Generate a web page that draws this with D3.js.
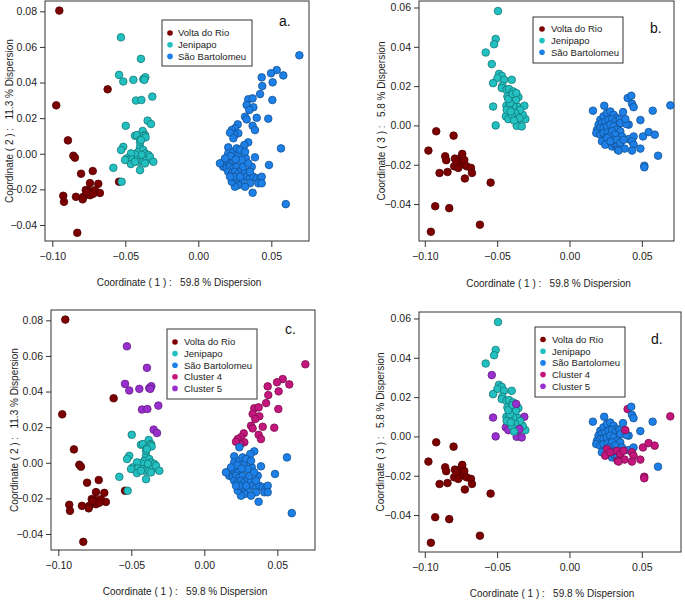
<!DOCTYPE html>
<html><head><meta charset="utf-8">
<script src="https://cdn.jsdelivr.net/npm/d3@7"></script>
<style>body{margin:0;background:#fff}svg{display:block;font-family:"Liberation Sans",Arial,sans-serif}</style>
</head><body><svg id="chart" width="685" height="601"></svg>
<script>
// ---- Data: Coordinate 1 vs Coordinate 2 (panels a, c). third value = cluster (panel c)
const volta12 = [[-0.0952,0.0804],[-0.0973,0.0272],[-0.0893,0.0075],[-0.0856,-0.0011],[-0.0845,-0.0022],[-0.0621,0.0362],[-0.0803,-0.0112],[-0.0723,-0.0097],[-0.0742,-0.0165],[-0.0685,-0.0169],[-0.0771,-0.0204],[-0.0753,-0.0208],[-0.0731,-0.0212],[-0.0708,-0.0205],[-0.0760,-0.0227],[-0.0742,-0.0233],[-0.0788,-0.0242],[-0.0792,-0.0256],[-0.0674,-0.0220],[-0.0838,-0.0242],[-0.0925,-0.0236],[-0.0920,-0.0270],[-0.0829,-0.0444],[-0.0543,-0.0157],[-0.0720,-0.0225],[-0.0765,-0.0215]];
const jeni12 = [[-0.0530,0.0654,5],[-0.0393,0.0533,5],[-0.0543,0.0443,5],[-0.0514,0.0406,5],[-0.0445,0.0415,5],[-0.0377,0.0419,5],[-0.0363,0.0430,5],[-0.0370,0.0415,5],[-0.0427,0.0299,5],[-0.0390,0.0302,5],[-0.0315,0.0321,5],[-0.0347,0.0186,5],[-0.0324,0.0167,5],
[-0.0497,0.0157,2],[-0.0434,0.0101,2],[-0.0420,0.0105,2],[-0.0381,0.0128,2],[-0.0365,0.0105,2],[-0.0395,0.0081,2],[-0.0514,0.0039,2],[-0.0529,0.0021,2],[-0.0582,-0.0079,2],[-0.0525,-0.0157,2],[-0.0399,0.0039,2],[-0.0411,0.0011,2],[-0.0377,0.0021,2],[-0.0365,0.0002,2],[-0.0342,-0.0007,2],[-0.0388,-0.0007,2],[-0.0434,-0.0003,2],[-0.0461,0.0002,2],[-0.0490,-0.0026,2],[-0.0479,-0.0035,2],[-0.0452,-0.0032,2],[-0.0422,-0.0035,2],[-0.0406,-0.0045,2],[-0.0377,-0.0045,2],[-0.0353,-0.0035,2],[-0.0331,-0.0017,2],[-0.0308,-0.0045,2],[-0.0461,-0.0058,2],[-0.0434,-0.0045,2],[-0.0399,-0.0092,2],[-0.0365,-0.0054,2],[-0.0502,-0.0035,2],[-0.0399,0.0067,2],[-0.0370,0.0100,2],[-0.0361,0.0092,2],[-0.0393,0.0077,2]];
const sb12 = [[0.0692,0.0553,4],[0.0537,0.0470,4],[0.0498,0.0452,4],[0.0582,0.0440,4],[0.0434,0.0429,4],[0.0509,0.0401,4],[0.0438,0.0380,4],[0.0423,0.0335,4],[0.0507,0.0302,4],[0.0342,0.0306,4],[0.0372,0.0311,4],[0.0331,0.0274,4],[0.0377,0.0261,4],[0.0349,0.0246,4],[0.0400,0.0202,4],[0.0320,0.0208,4],[0.0331,0.0193,4],[0.0479,0.0197,4],[0.0372,0.0157,4],[0.0388,0.0133,4],[0.0270,0.0165,4],[0.0251,0.0143,4],[0.0229,0.0133,4],[0.0274,0.0115,4],[0.0247,0.0105,4],[0.0217,0.0118,4],
[0.0240,0.0087,3],[0.0342,0.0064,3],[0.0315,0.0049,3],[0.0205,0.0036,3],[0.0566,0.0030,3],[0.0388,-0.0020,3],[0.0325,-0.0026,3],[0.0484,-0.0063,3],[0.0366,-0.0073,3],[0.0599,-0.0283,3],[0.0372,-0.0219,3],
[0.0160,-0.0054,3],[0.0178,-0.0045,3],[0.0194,-0.0058,3],[0.0217,-0.0035,3],[0.0233,-0.0054,3],[0.0171,-0.0073,3],[0.0194,-0.0082,3],[0.0217,-0.0073,3],[0.0240,-0.0082,3],[0.0263,-0.0073,3],[0.0205,-0.0101,3],[0.0229,-0.0110,3],[0.0251,-0.0101,3],[0.0274,-0.0110,3],[0.0297,-0.0092,3],[0.0320,-0.0101,3],[0.0331,-0.0129,3],[0.0354,-0.0138,3],[0.0377,-0.0129,3],[0.0400,-0.0138,3],[0.0423,-0.0144,3],[0.0434,-0.0129,3],[0.0411,-0.0166,3],[0.0354,-0.0166,3],[0.0297,-0.0157,3],[0.0274,-0.0176,3],[0.0251,-0.0185,3],[0.0229,-0.0157,3],[0.0263,-0.0138,3],[0.0240,-0.0129,3],[0.0286,-0.0129,3],[0.0308,-0.0073,3],[0.0205,0.0002,3],[0.0240,0.0011,3],[0.0274,-0.0007,3],[0.0297,-0.0035,3],[0.0342,-0.0054,3],[0.0224,-0.0013,3],[0.0256,-0.0032,3],[0.0354,-0.0101,3],[0.0183,-0.0026,3],[0.0263,0.0030,3],[0.0286,0.0021,3],[0.0320,0.0011,3],[0.0217,-0.0129,3],[0.0320,-0.0185,3],[0.0434,-0.0166,3],[0.0148,-0.0054,3]];

// ---- Data: Coordinate 1 vs Coordinate 3 (panels b, d). third value = cluster (panel d)
const volta13 = [[-0.0975,-0.0128],[-0.0921,-0.0030],[-0.0801,-0.0052],[-0.0958,-0.0541],[-0.0928,-0.0411],[-0.0831,-0.0421],[-0.0619,-0.0505],[-0.0545,-0.0291],[-0.0898,-0.0242],[-0.0843,-0.0237],[-0.0859,-0.0157],[-0.0852,-0.0177],[-0.0792,-0.0169],[-0.0797,-0.0208],[-0.0767,-0.0191],[-0.0746,-0.0157],[-0.0753,-0.0177],[-0.0734,-0.0199],[-0.0727,-0.0176],[-0.0711,-0.0208],[-0.0681,-0.0216],[-0.0674,-0.0242],[-0.0723,-0.0270],[-0.0769,-0.0216],[-0.0781,-0.0183],[-0.0741,-0.0145]];
const jeni13 = [[-0.0494,0.0582,2],[-0.0510,0.0440,2],[-0.0521,0.0413,2],[-0.0579,0.0371,2],[-0.0537,0.0312,5],[-0.0487,0.0262,2],[-0.0468,0.0252,2],[-0.0498,0.0241,2],[-0.0528,0.0215,2],[-0.0399,0.0232,2],[-0.0452,0.0232,2],[-0.0464,0.0202,2],[-0.0468,0.0190,2],[-0.0436,0.0181,2],[-0.0418,0.0185,2],[-0.0390,0.0173,2],[-0.0429,0.0147,2],[-0.0406,0.0139,2],[-0.0383,0.0130,2],[-0.0528,0.0096,5],[-0.0436,0.0100,2],[-0.0406,0.0088,2],[-0.0383,0.0080,2],[-0.0360,0.0096,2],[-0.0440,0.0046,5],[-0.0422,0.0032,5],[-0.0510,0.0000,5],[-0.0360,0.0012,2],
[-0.0312,0.0100,5],[-0.0305,0.0032,2],[-0.0323,0.0054,2],[-0.0342,0.0079,2],[-0.0365,-0.0002,5],[-0.0330,-0.0005,5],[-0.0353,0.0144,2],[-0.0370,0.0130,2],[-0.0388,0.0096,2],[-0.0376,0.0063,2],[-0.0400,0.0054,2],[-0.0346,0.0037,5],[-0.0383,0.0025,2],[-0.0418,0.0093,2],[-0.0434,0.0079,2],[-0.0411,0.0113,2],[-0.0423,0.0134,2],[-0.0393,0.0160,2],[-0.0406,0.0071,2],[-0.0368,0.0165,5]];
const sb13 = [[0.0402,0.0139,4],[0.0427,0.0151,3],[0.0432,0.0110,3],[0.0443,0.0093,3],[0.0697,0.0102,4],[0.0162,0.0075,3],[0.0240,0.0100,3],[0.0575,0.0075,3],[0.0370,0.0068,3],[0.0490,0.0027,3],
[0.0213,0.0029,3],[0.0235,0.0046,3],[0.0259,0.0063,3],[0.0282,0.0071,3],[0.0305,0.0054,3],[0.0328,0.0038,3],[0.0201,0.0004,3],[0.0224,0.0012,3],[0.0247,0.0020,3],[0.0270,0.0029,3],[0.0294,0.0032,3],[0.0316,0.0020,3],[0.0339,0.0004,3],[0.0190,-0.0022,3],[0.0213,-0.0013,3],[0.0235,-0.0013,3],[0.0259,-0.0005,3],[0.0282,0.0004,3],[0.0305,-0.0005,3],[0.0328,-0.0022,3],[0.0351,-0.0030,3],[0.0185,-0.0039,3],[0.0213,-0.0047,3],[0.0235,-0.0039,3],[0.0263,-0.0036,3],[0.0294,-0.0030,3],[0.0316,-0.0047,3],[0.0235,-0.0073,3],[0.0224,-0.0081,3],[0.0305,-0.0073,3],[0.0294,-0.0107,3],[0.0270,-0.0056,3],[0.0316,-0.0098,3],[0.0346,0.0032,3],[0.0363,-0.0056,3],[0.0351,0.0012,3],[0.0409,0.0004,3],[0.0393,0.0007,3],[0.0328,-0.0107,3],[0.0409,-0.0069,3],[0.0443,-0.0056,3],[0.0612,-0.0154,3],
[0.0259,-0.0064,4],[0.0247,-0.0098,4],[0.0282,-0.0081,4],[0.0328,-0.0073,4],[0.0351,-0.0089,4],[0.0332,-0.0123,4],[0.0386,0.0032,4],[0.0508,-0.0056,4],[0.0547,-0.0034,4],[0.0589,-0.0047,4],[0.0517,-0.0205,4],[0.0517,-0.0213,4],[0.0490,-0.0118,4],[0.0432,-0.0081,4],[0.0443,-0.0098,4],[0.0432,-0.0128,4],[0.0381,-0.0118,4],[0.0339,-0.0128,4],[0.0374,-0.0073,4]];

const popNames = ["Volta do Rio","Jenipapo","São Bartolomeu"];
const clusterNames = ["Volta do Rio","Jenipapo","São Bartolomeu","Cluster 4","Cluster 5"];
const xTicks = [-0.10,-0.05,0.00,0.05];
const yTicks12 = [-0.04,-0.02,0.00,0.02,0.04,0.06,0.08];
const yTicks13 = [-0.04,-0.02,0.00,0.02,0.04,0.06];
const xTitle = "Coordinate ( 1 ) :   59.8 % Dispersion";
const yTitle12 = "Coordinate ( 2 ) :   11.3 % Dispersion";
const yTitle13 = "Coordinate ( 3 ) :   5.8 % Dispersion";

const colors = ["#7d0000","#22c0c0","#1d80e8","#c4167c","#9a2fd0"];

const panels = [
  {lab:"a.", labPos:[279,26], sets:[volta12,jeni12,sb12], byCluster:false, box:[45,1,309,241], xd:[-0.105,0.0758], yd:[-0.049,0.0858], yTicks:yTicks12, yTitle:yTitle12, ytx:9, xty:286, leg:{x:162,y:20,w:90,h:46,r0:33,dy:11.7,mx:170,tx:178}, names:popNames},
  {lab:"b.", labPos:[650,33], sets:[volta13,jeni13,sb13], byCluster:false, box:[419,1,674,241], xd:[-0.1040,0.0722], yd:[-0.0588,0.0633], yTicks:yTicks13, yTitle:yTitle13, ytx:381, xty:286.5, leg:{x:533,y:17,w:90,h:46,r0:29,dy:11.6,mx:542,tx:551}, names:popNames},
  {lab:"c.", labPos:[285,334], sets:[volta12,jeni12,sb12], byCluster:true, box:[51,310,315,550], xd:[-0.105,0.0758], yd:[-0.049,0.0858], yTicks:yTicks12, yTitle:yTitle12, ytx:14, xty:594.5, leg:{x:167,y:329,w:90,h:70,r0:342,dy:11.6,mx:175,tx:184}, names:clusterNames},
  {lab:"d.", labPos:[651,344], sets:[volta13,jeni13,sb13], byCluster:true, box:[419,312,681,552], xd:[-0.1040,0.0771], yd:[-0.0588,0.0633], yTicks:yTicks13, yTitle:yTitle13, ytx:380, xty:597, leg:{x:535,y:327,w:90,h:70,r0:339.5,dy:11.7,mx:543,tx:552}, names:clusterNames}
];

const svg = d3.select("#chart");
const fmt = d3.format(".2f");

panels.forEach(p => {
  const [L,T,R,B] = p.box;
  const x = d3.scaleLinear().domain(p.xd).range([L,R]);
  const y = d3.scaleLinear().domain(p.yd).range([B,T]);
  const g = svg.append("g");

  const ax = g.append("g").attr("transform",`translate(0,${B})`)
    .call(d3.axisBottom(x).tickValues(xTicks).tickFormat(fmt).tickSize(6).tickPadding(6));
  const ay = g.append("g").attr("transform",`translate(${L},0)`)
    .call(d3.axisLeft(y).tickValues(p.yTicks).tickFormat(fmt).tickSize(5).tickPadding(3));
  [ax,ay].forEach(a => {
    a.select(".domain").remove();
    a.selectAll("line").attr("stroke","#333");
    a.selectAll("text").attr("fill","#222").style("font-size","10.5px").style("font-family","'Liberation Sans',Arial,sans-serif");
  });
  ax.selectAll("text").attr("dy","0.71em");

  g.append("rect").attr("x",L).attr("y",T).attr("width",R-L).attr("height",B-T)
    .attr("fill","none").attr("stroke","#333").attr("stroke-width",1);

  p.sets.forEach((set,si) => {
    g.append("g").selectAll("circle").data(set).join("circle")
      .attr("cx",d=>x(d[0])).attr("cy",d=>y(d[1])).attr("r",3.8)
      .attr("fill",d=>{const c = p.byCluster && d[2] ? d[2]-1 : si; return colors[c];})
      .attr("stroke",d=>{const c = p.byCluster && d[2] ? d[2]-1 : si; return d3.color(colors[c]).darker(1.3);})
      .attr("stroke-width",0.8);
  });

  g.append("text").attr("x",(L+R)/2+2).attr("y",p.xty).attr("text-anchor","middle")
    .style("font-size","10px").style("white-space","pre").attr("fill","#222").text(xTitle);
  g.append("text").attr("transform",`translate(${p.ytx},${(T+B)/2}) rotate(-90)`)
    .attr("text-anchor","middle").attr("dy","0.35em")
    .style("font-size","10px").style("white-space","pre").attr("fill","#222").text(p.yTitle);

  g.append("text").attr("x",p.labPos[0]).attr("y",p.labPos[1]).style("font-size","14px").attr("fill","#111").text(p.lab);

  const lg = p.leg;
  g.append("rect").attr("x",lg.x).attr("y",lg.y).attr("width",lg.w).attr("height",lg.h)
    .attr("fill","#fff").attr("stroke","#333").attr("stroke-width",1);
  p.names.forEach((n,i) => {
    const yy = lg.r0 + i*lg.dy;
    g.append("circle").attr("cx",lg.mx).attr("cy",yy).attr("r",2.8).attr("fill",colors[i]);
    g.append("text").attr("x",lg.tx).attr("y",yy).attr("dy","0.35em").style("font-size","9.5px").attr("fill","#222").text(n);
  });
});
</script></body></html>
